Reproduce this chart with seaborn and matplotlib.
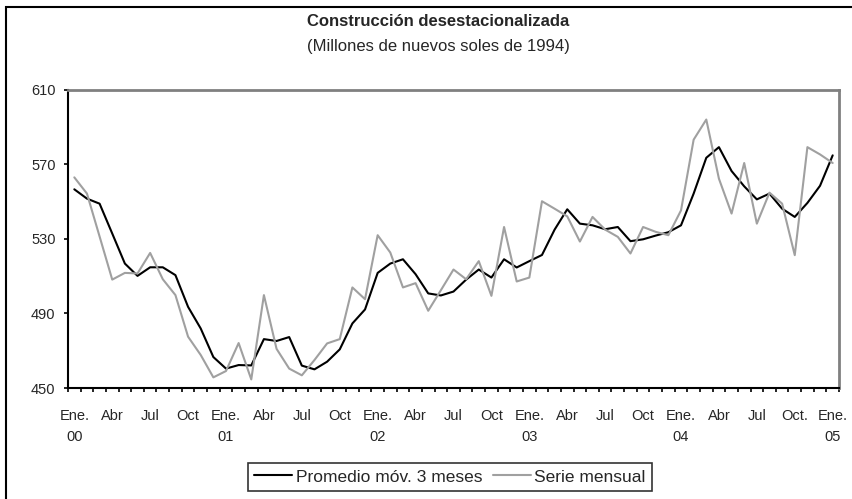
import numpy as np
import pandas as pd
import matplotlib.pyplot as plt
import matplotlib.patches as patches
import seaborn as sns

# Monthly data, Ene. 2000 - Ene. 2005
promedio = [556.5, 551.5, 548.8, 532.8, 516.7, 510.1, 514.7, 514.7, 510.5, 493.5,
            481.9, 466.6, 460.4, 462.3, 462.1, 476.2, 475.2, 477.3, 462.0, 460.0,
            464.1, 470.7, 484.6, 492.1, 511.7, 516.7, 519.0, 511.0, 500.7, 499.6,
            501.7, 508.1, 513.5, 509.2, 519.0, 514.6, 518.0, 521.3, 534.9, 545.8,
            538.1, 537.2, 535.1, 536.3, 528.7, 529.7, 531.7, 533.5, 537.2, 554.2,
            573.4, 579.1, 566.3, 558.1, 551.1, 554.2, 546.1, 541.7, 549.2, 558.4,
            574.7]
mensual = [562.9, 554.2, 531.2, 508.1, 511.7, 511.4, 522.4, 508.3, 499.8, 477.5,
           467.7, 455.7, 459.1, 474.1, 454.6, 499.8, 471.0, 460.4, 456.8, 465.0,
           473.9, 476.2, 503.9, 497.6, 531.9, 522.6, 503.9, 506.2, 491.4, 502.4,
           513.5, 508.3, 518.0, 499.4, 536.3, 507.1, 509.2, 550.1, 546.1, 542.0,
           528.5, 541.7, 534.9, 531.0, 522.1, 536.3, 533.7, 531.9, 545.2, 583.1,
           593.9, 562.2, 543.5, 570.6, 538.1, 554.7, 548.8, 521.2, 579.1, 575.2,
           570.6]
mes_labels = ['Ene.', 'Abr', 'Jul', 'Oct']
anios = ['00', '01', '02', '03', '04', '05']
y_ticks = [450, 490, 530, 570, 610]

serie_a = 'Promedio móv. 3 meses'
serie_b = 'Serie mensual'

n = len(mensual)
df = pd.DataFrame({
    'mes': list(range(n)) * 2,
    'valor': promedio + mensual,
    'serie': [serie_a] * n + [serie_b] * n,
})

sns.set_theme(style='white')
plt.rcParams['font.family'] = ['Liberation Sans', 'DejaVu Sans']

fig = plt.figure(figsize=(8.53, 4.99), dpi=100)
ax = fig.add_axes([68 / 853, 1 - 388 / 499, (839 - 68) / 853, (388 - 89.5) / 499])

sns.lineplot(data=df, x='mes', y='valor', hue='serie', hue_order=[serie_a, serie_b],
             palette={serie_a: 'black', serie_b: '#a0a0a0'}, linewidth=1.5, ax=ax)

ax.set_xlim(-0.5, n - 0.5)
ax.set_ylim(450, 610)
ax.set_xlabel('')
ax.set_ylabel('')

# y axis
ax.set_yticks(y_ticks)
ax.tick_params(axis='y', direction='out', length=3, width=1.2, color='black',
               labelsize=10.5, pad=6, left=True)

# x axis: tick marks between months, labels every 3 months
ax.set_xticks(np.arange(-0.5, n, 1.0))
ax.set_xticklabels([])
lab_pos = list(range(0, n, 3))
labs = []
for i in lab_pos:
    m = mes_labels[(i % 12) // 3]
    if i == 57:
        m = 'Oct.'
    if i % 12 == 0:
        m = m + '\n' + anios[i // 12]
    labs.append(m)
ax.set_xticks(lab_pos, minor=True)
ax.set_xticklabels(labs, minor=True, linespacing=1.65)
ax.tick_params(axis='x', which='major', direction='out', length=3, width=1.2,
               color='black', bottom=True)
ax.tick_params(axis='x', which='minor', length=0, labelsize=10.5, pad=15, bottom=True)

for s in ['left', 'bottom']:
    ax.spines[s].set_color('black')
    ax.spines[s].set_linewidth(1.5)
for s in ['top', 'right']:
    ax.spines[s].set_color('#808080')
    ax.spines[s].set_linewidth(2)

leg = ax.legend(loc='center', bbox_to_anchor=(450 / 853, 1 - 477 / 499),
                bbox_transform=fig.transFigure, ncol=2, fontsize=12.5,
                frameon=True, fancybox=False, handlelength=2.2, handletextpad=0.2,
                columnspacing=0.6, borderpad=0.35)
leg.get_frame().set_edgecolor('black')
leg.get_frame().set_linewidth(1.2)

fig.text(438 / 853, 1 - 22 / 499, 'Construcción desestacionalizada',
         ha='center', va='center', fontsize=12, fontweight='bold')
fig.text(438 / 853, 1 - 46 / 499, '(Millones de nuevos soles de 1994)',
         ha='center', va='center', fontsize=12)

# outer chart border (right and bottom edges fall outside the image)
fig.patches.append(patches.Rectangle((6.5 / 853, -0.1), 2, 1 - 7 / 499 + 0.1,
                                     transform=fig.transFigure, fill=False,
                                     edgecolor='black', linewidth=1.5))

fig.savefig('out.png', dpi=100)
